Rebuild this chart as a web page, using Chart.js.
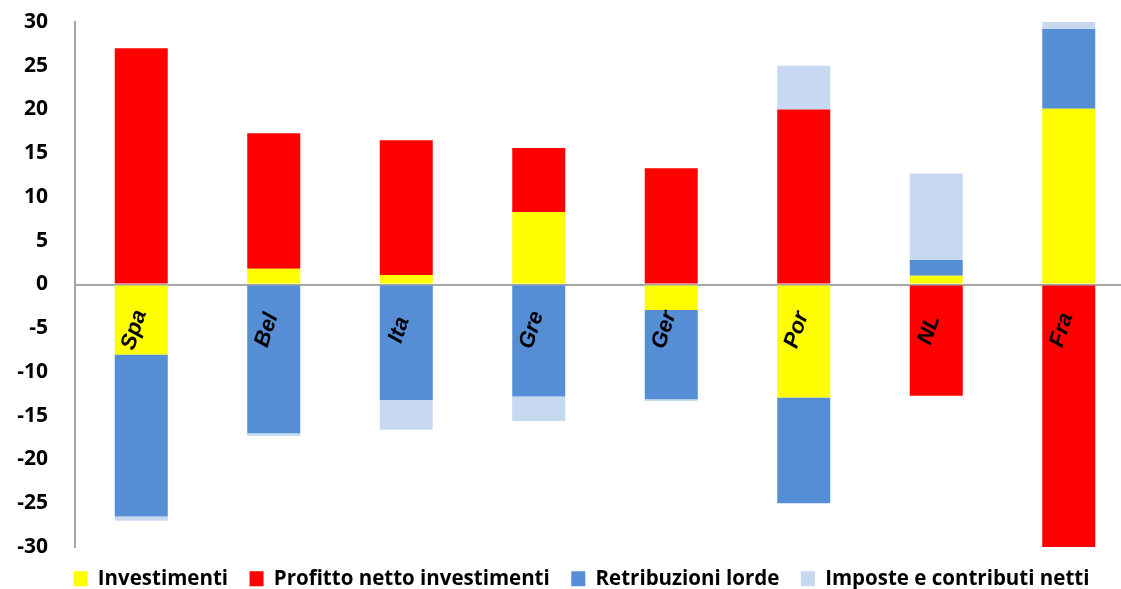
<!DOCTYPE html>
<html>
<head>
<meta charset="utf-8">
<script src="https://cdn.jsdelivr.net/npm/chart.js@4.4.1/dist/chart.umd.min.js"></script>
<style>
  html, body { margin: 0; padding: 0; background: #fff; overflow: hidden; }
  #wrap { width: 1162px; height: 599px; position: relative; }
</style>
</head>
<body>
<div id="wrap"><canvas id="chart"></canvas></div>
<script>
// ======= DATI =======
const paesi = ["Spa", "Bel", "Ita", "Gre", "Ger", "Por", "NL", "Fra"];
const investimenti = [-8.0, 1.8, 1.1, 8.3, -2.9, -12.9, 1.0, 20.1];
const profittoNetto = [27.0, 15.5, 15.4, 7.3, 13.3, 20.0, -12.7, -30.0];
const retribuzioni = [-18.5, -17.0, -13.2, -12.8, -10.2, -12.1, 1.8, 9.1];
const imposte = [-0.5, -0.3, -3.4, -2.8, -0.2, 5.0, 9.9, 0.8];
const yTicks = [-30, -25, -20, -15, -10, -5, 0, 5, 10, 15, 20, 25, 30];

const FONT = "'Open Sans', sans-serif";

// etichette dei paesi dentro il grafico, ruotate
const etichettePaesi = {
  id: "etichettePaesi",
  afterDatasetsDraw(chart) {
    const { ctx, scales: { x, y } } = chart;
    ctx.save();
    ctx.font = "italic bold 22px 'Liberation Sans', Arial, sans-serif";
    ctx.fillStyle = "#000";
    ctx.textAlign = "center";
    ctx.textBaseline = "middle";
    paesi.forEach((p, i) => {
      ctx.save();
      ctx.translate(x.getPixelForValue(i) - 7, y.getPixelForValue(-5.2));
      ctx.rotate(-72 * Math.PI / 180);
      ctx.fillText(p, 0, 0);
      ctx.restore();
    });
    ctx.restore();
  }
};

// la legenda va centrata un po' piu a destra
const spostaLegenda = {
  id: "spostaLegenda",
  afterLayout(chart) {
    chart.legend.left += 14;
    chart.legend.right += 14;
  }
};

const ds = (label, data, color) => ({
  label: label,
  data: data,
  backgroundColor: color,
  borderWidth: 0,
  barPercentage: 0.4,
  categoryPercentage: 1
});

new Chart(document.getElementById("chart"), {
  type: "bar",
  data: {
    labels: paesi,
    datasets: [
      ds("Investimenti", investimenti, "#FFFF00"),
      ds("Profitto netto investimenti", profittoNetto, "#FF0000"),
      ds("Retribuzioni lorde", retribuzioni, "#558ED5"),
      ds("Imposte e contributi netti", imposte, "#C6D9F1")
    ]
  },
  options: {
    responsive: true,
    maintainAspectRatio: false,
    animation: false,
    layout: { padding: { top: 22, right: 27, bottom: 0, left: 0 } },
    plugins: {
      tooltip: { enabled: false },
      legend: {
        position: "bottom",
        labels: {
          font: { family: FONT, size: 20.5, weight: "bold" },
          color: "#000",
          boxWidth: 14,
          boxHeight: 15,
          padding: 21.5
        }
      }
    },
    scales: {
      x: {
        stacked: true,
        display: false
      },
      y: {
        stacked: true,
        min: -30,
        max: 30,
        afterBuildTicks: (s) => { s.ticks = yTicks.map(v => ({ value: v })); },
        afterFit: (s) => { s.width = 75; s.paddingTop = 0; s.paddingBottom = 0; },
        border: { display: true, color: "#A6A6A6", width: 2 },
        grid: {
          drawTicks: false,
          lineWidth: 2,
          color: (c) => c.tick && c.tick.value === 0 ? "#A6A6A6" : "rgba(0,0,0,0)"
        },
        ticks: {
          padding: 27,
          color: "#000",
          font: { family: FONT, size: 21, weight: "bold" }
        }
      }
    }
  },
  plugins: [etichettePaesi, spostaLegenda]
});
</script>
</body>
</html>
